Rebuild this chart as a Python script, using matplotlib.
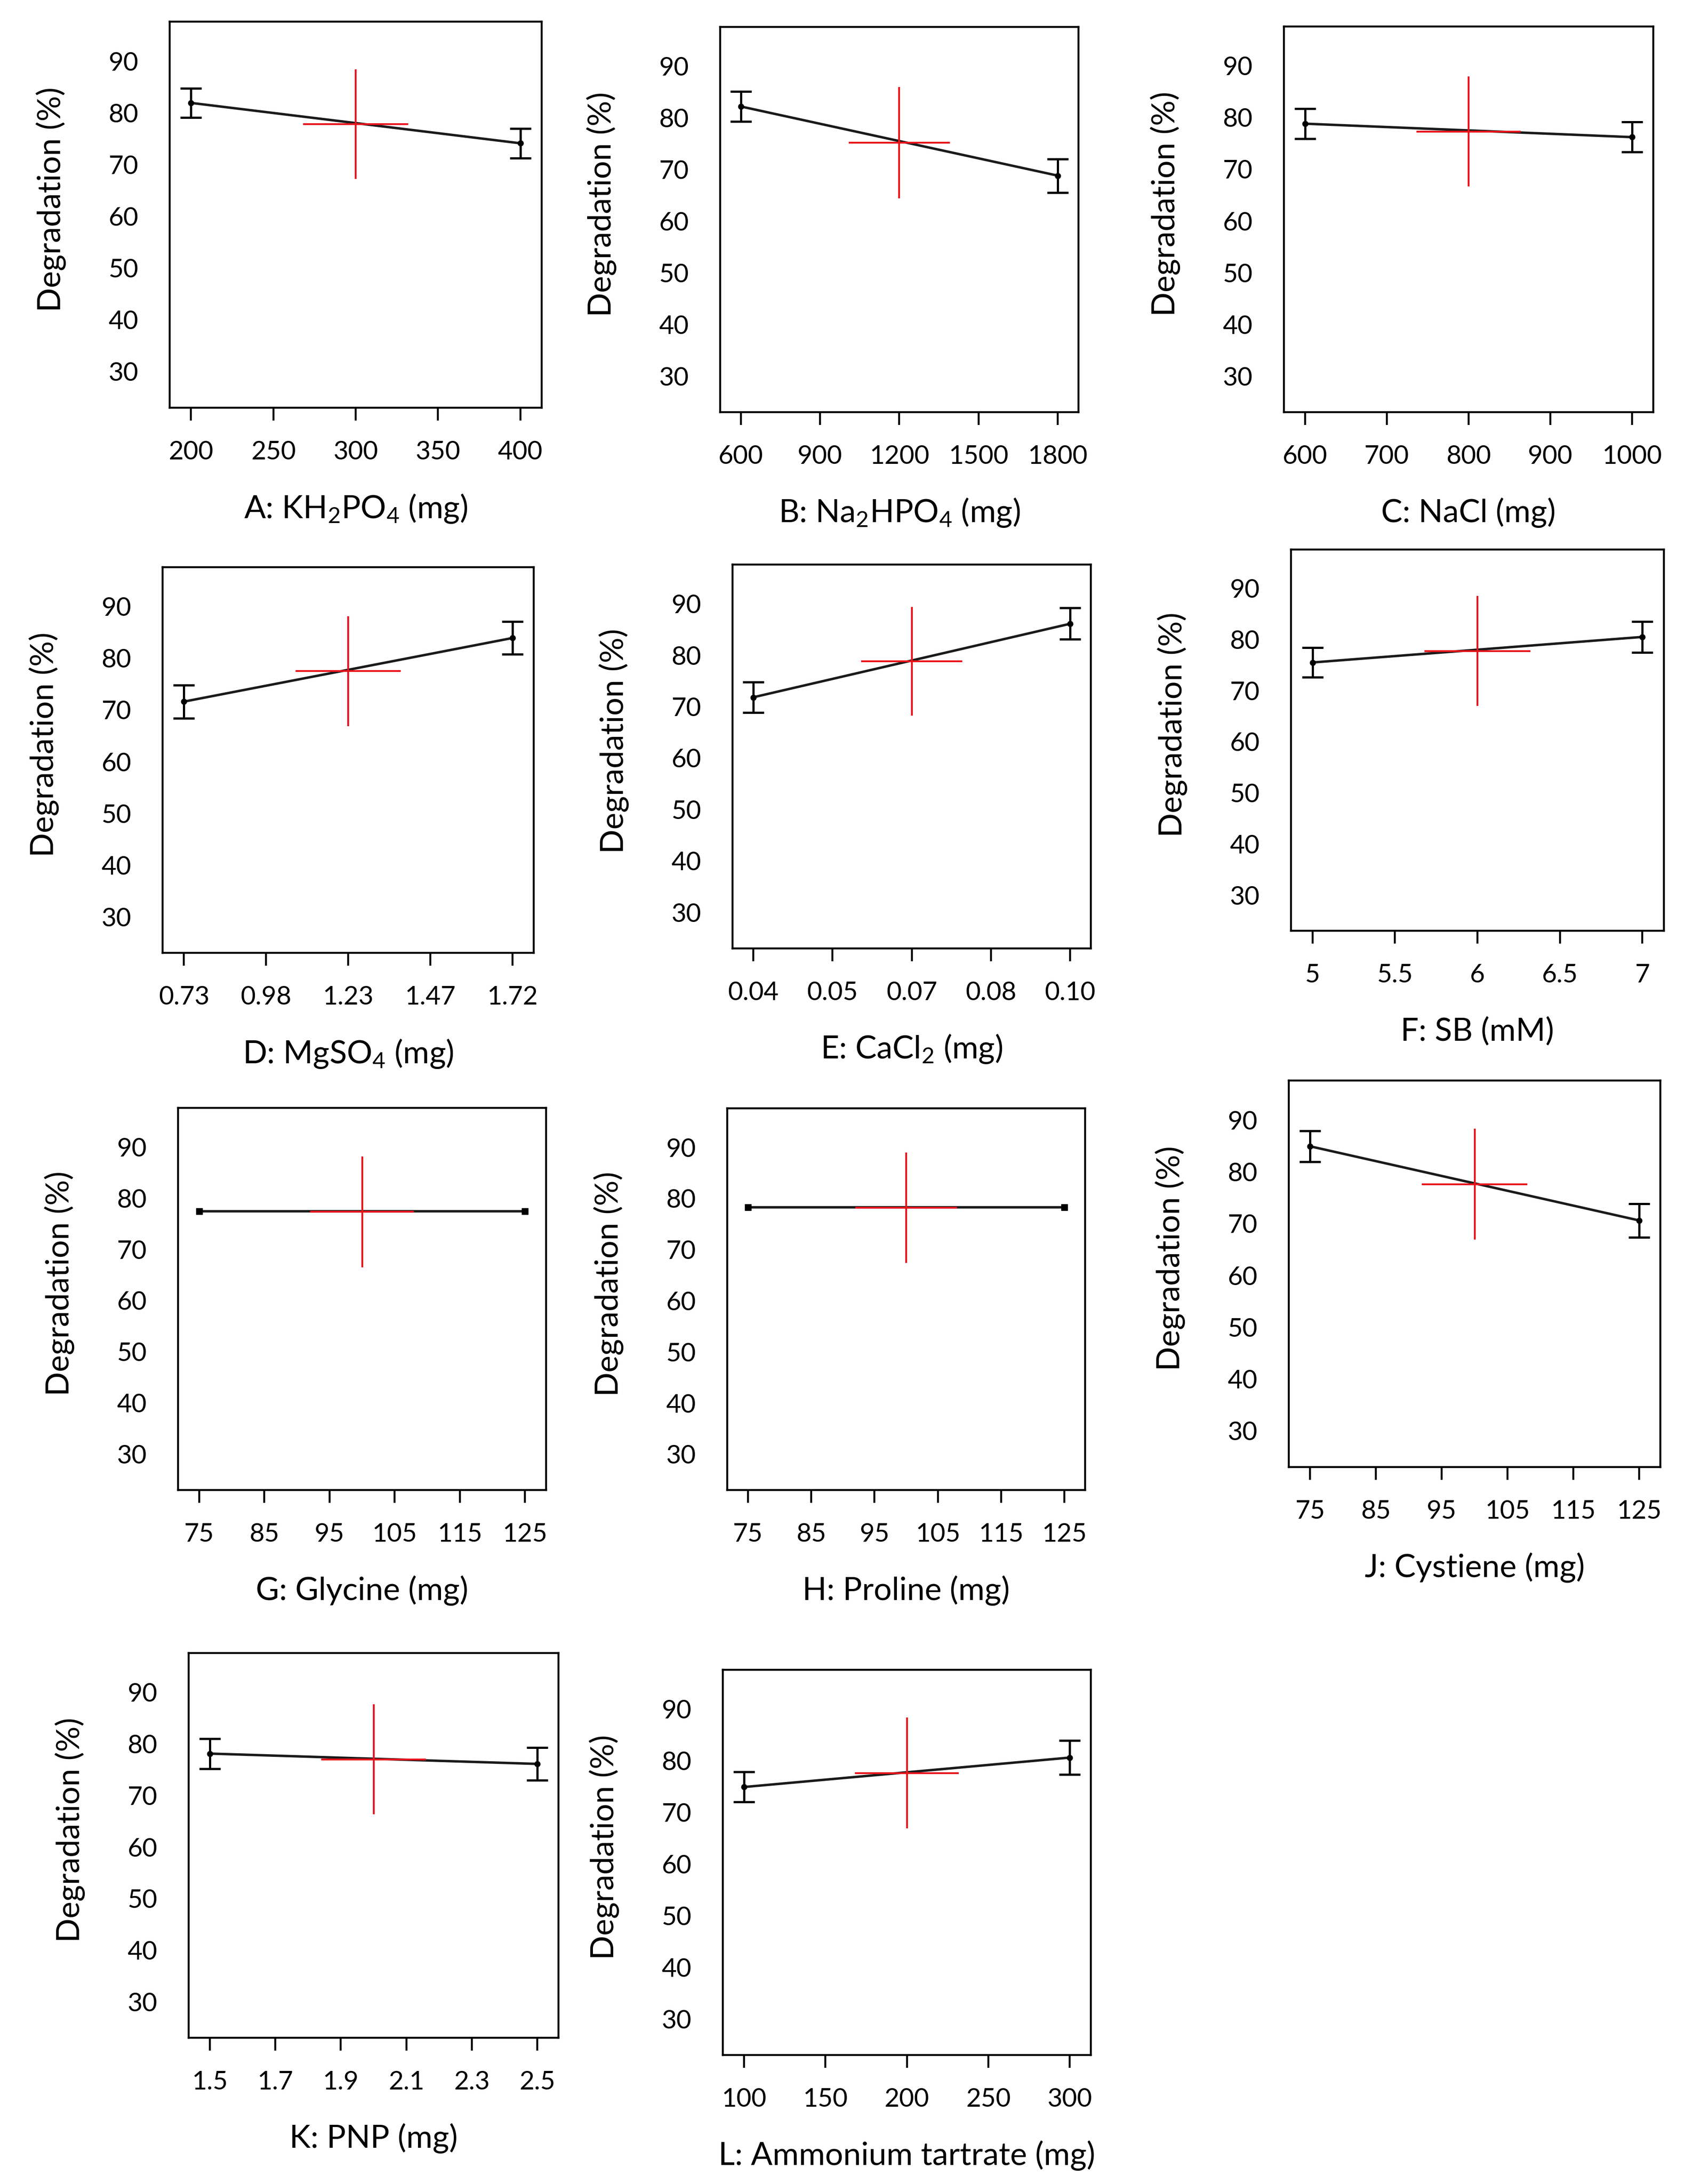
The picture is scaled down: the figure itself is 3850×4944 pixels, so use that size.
import matplotlib.pyplot as plt

plt.rcParams['font.family'] = ['Lato', 'DejaVu Sans']
plt.rcParams['mathtext.fontset'] = 'custom'
plt.rcParams['mathtext.rm'] = 'Lato'
plt.rcParams['mathtext.it'] = 'Lato:italic'
plt.rcParams['mathtext.bf'] = 'Lato:bold'

# factor labels, low / high levels
xlabels = ['A: KH$_{\\mathrm{2}}$PO$_{\\mathrm{4}}$ (mg)', 'B: Na$_{\\mathrm{2}}$HPO$_{\\mathrm{4}}$ (mg)',
           'C: NaCl (mg)', 'D: MgSO$_{\\mathrm{4}}$ (mg)', 'E: CaCl$_{\\mathrm{2}}$ (mg)', 'F: SB (mM)',
           'G: Glycine (mg)', 'H: Proline (mg)', 'J: Cystiene (mg)', 'K: PNP (mg)',
           'L: Ammonium tartrate (mg)']
x_low = [200, 600, 600, 0.73, 0.04, 5, 75, 75, 75, 1.5, 100]
x_high = [400, 1800, 1000, 1.72, 0.10, 7, 125, 125, 125, 2.5, 300]

# degradation (%) at low / high level with error bars
y_low = [81.9, 82.2, 78.8, 71.6, 71.8, 75.5, 77.4, 78.3, 84.9, 78.1, 74.9]
y_high = [74.1, 68.8, 76.2, 83.9, 86.1, 80.5, 77.4, 78.3, 70.6, 76.1, 80.6]
err_low = [2.85, 2.95, 2.9, 3.2, 3.0, 2.9, 0, 0, 2.95, 2.9, 2.9]
err_high = [2.85, 3.25, 2.9, 3.15, 3.05, 3.05, 0, 0, 3.25, 3.2, 3.3]

# centre point (red cross)
cross_y = [77.8, 75.2, 77.3, 77.5, 78.8, 77.75, 77.3, 78.2, 77.6, 77.0, 77.6]
cross_h = [10.6, 10.8, 10.65, 10.65, 10.6, 10.75, 10.85, 10.8, 10.7, 10.65, 10.75]

# x ticks
xticks = [[200, 250, 300, 350, 400],
          [600, 900, 1200, 1500, 1800],
          [600, 700, 800, 900, 1000],
          [0.73, 0.9775, 1.225, 1.4725, 1.72],
          [0.04, 0.055, 0.07, 0.085, 0.10],
          [5, 5.5, 6, 6.5, 7],
          [75, 85, 95, 105, 115, 125],
          [75, 85, 95, 105, 115, 125],
          [75, 85, 95, 105, 115, 125],
          [1.5, 1.7, 1.9, 2.1, 2.3, 2.5],
          [100, 150, 200, 250, 300]]
xticklabels = [['200', '250', '300', '350', '400'],
               ['600', '900', '1200', '1500', '1800'],
               ['600', '700', '800', '900', '1000'],
               ['0.73', '0.98', '1.23', '1.47', '1.72'],
               ['0.04', '0.05', '0.07', '0.08', '0.10'],
               ['5', '5.5', '6', '6.5', '7'],
               ['75', '85', '95', '105', '115', '125'],
               ['75', '85', '95', '105', '115', '125'],
               ['75', '85', '95', '105', '115', '125'],
               ['1.5', '1.7', '1.9', '2.1', '2.3', '2.5'],
               ['100', '150', '200', '250', '300']]
yticks = [30, 40, 50, 60, 70, 80, 90]

# axes boxes in pixels (x0, x1, y0, y1), y measured from top
W, H = 3850, 4944
boxes = [(384, 1226, 49, 923), (1630, 2441, 61, 933), (2906, 3742, 60, 933),
         (368, 1208, 1284, 2157), (1658, 2469, 1278, 2147), (2922, 3766, 1244, 2107),
         (403, 1236, 2508, 3373), (1646, 2456, 2509, 3373), (2917, 3758, 2446, 3321),
         (427, 1264, 3742, 4613), (1636, 2469, 3780, 4652)]

red = '#e8141c'
fig = plt.figure(figsize=(W / 100, H / 100), dpi=100)

for i in range(len(xlabels)):
    x0, x1, y0, y1 = boxes[i]
    ax = fig.add_axes([x0 / W, 1 - y1 / H, (x1 - x0) / W, (y1 - y0) / H])
    lo, hi = x_low[i], x_high[i]
    r = hi - lo
    mid = (lo + hi) / 2

    ax.plot([lo, hi], [y_low[i], y_high[i]], color='#1a1a1a', lw=4, zorder=2)
    if err_low[i] > 0:
        ax.errorbar([lo, hi], [y_low[i], y_high[i]], yerr=[err_low[i], err_high[i]],
                    fmt='o', color='black', ms=9, elinewidth=3.6, capsize=17, capthick=3.6, zorder=3)
    else:
        ax.plot([lo, hi], [y_low[i], y_high[i]], 's', color='black', ms=10, zorder=3)

    ax.errorbar(mid, cross_y[i], xerr=0.16 * r, yerr=cross_h[i], fmt='none',
                ecolor=red, elinewidth=3, capsize=0, zorder=4)

    ax.set_xlim(lo - 0.065 * r, hi + 0.065 * r)
    ax.set_ylim(23, 97.6)
    ax.set_xticks(xticks[i])
    ax.set_xticklabels(xticklabels[i])
    ax.set_yticks(yticks)

    ax.tick_params(axis='x', direction='out', length=21, width=3.2, pad=32, labelsize=42)
    ax.tick_params(axis='y', length=0, pad=51, labelsize=42)
    for s in ax.spines.values():
        s.set_linewidth(3.2)

    ax.set_xlabel(xlabels[i], fontsize=52)
    ax.xaxis.set_label_coords(0.5, -228 / (y1 - y0))
    ax.xaxis.label.set_va('center')
    ax.set_ylabel('Degradation (%)', fontsize=52)
    ax.yaxis.set_label_coords(-268 / (x1 - x0), 0.54)
    ax.yaxis.label.set_va('center')

plt.savefig('out.png', dpi=100, facecolor='white')
